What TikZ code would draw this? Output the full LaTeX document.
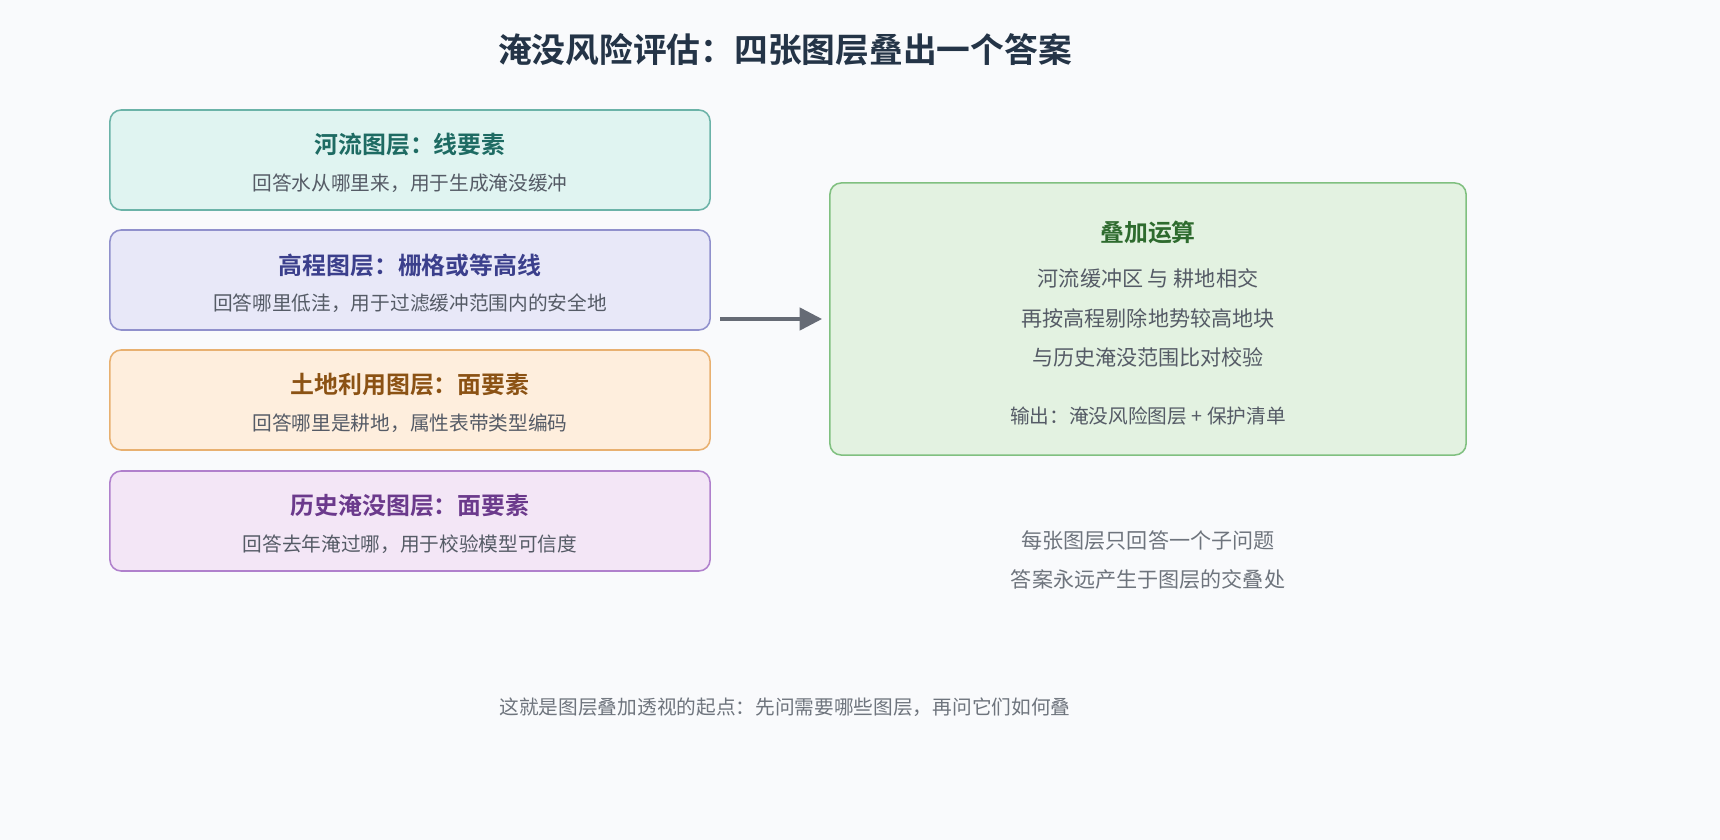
\documentclass[tikz,border=0pt]{standalone}
\usepackage{fontspec}
\setmainfont{Noto Sans CJK SC}[BoldFont={Noto Sans CJK SC Bold}]
\usetikzlibrary{arrows.meta}
\definecolor{bg}{HTML}{F9FAFC}
\definecolor{ink}{HTML}{555B66}
\definecolor{head}{HTML}{243447}
\definecolor{riverfill}{HTML}{E0F4F1}\definecolor{riverline}{HTML}{6BB3A8}\definecolor{rivertext}{HTML}{1E6B63}
\definecolor{demfill}{HTML}{E8E8F8}\definecolor{demline}{HTML}{9090CC}\definecolor{demtext}{HTML}{3B3F8C}
\definecolor{landfill}{HTML}{FEEEDD}\definecolor{landline}{HTML}{E8B070}\definecolor{landtext}{HTML}{8B5214}
\definecolor{floodfill}{HTML}{F3E6F6}\definecolor{floodline}{HTML}{B080CC}\definecolor{floodtext}{HTML}{6B3A8C}
\definecolor{ovfill}{HTML}{E3F2E1}\definecolor{ovline}{HTML}{80C080}\definecolor{ovtext}{HTML}{2E6B2E}
\tikzset{
    layer/.style={draw,rounded corners=8pt,line width=1.1pt,minimum width=15cm,minimum height=2.5cm},
    ttl/.style={font=\fontsize{17}{20}\selectfont\bfseries},
    sub/.style={text=ink,font=\fontsize{14}{17}\selectfont},
    note/.style={text=ink!85,font=\fontsize{14}{17}\selectfont},
    directed/.style={arrows={-Triangle[length=16pt,width=16pt]},line width=2.5pt,draw=ink!90},
    }
\begin{document}
\begin{tikzpicture}[x=0.025cm,y=-0.025cm]
        \useasboundingbox (0,0) rectangle (1720,840);
        \fill[bg] (0,0) rectangle (1720,840);
        \node[text=head,font=\fontsize{24}{28}\selectfont\bfseries] (title) at (785,50) {淹没风险评估：四张图层叠出一个答案};

        % input layers
        \node[layer,fill=riverfill,draw=riverline] (river) at (410,160) {};
        \node[layer,fill=demfill,draw=demline] (dem) at (410,280) {};
        \node[layer,fill=landfill,draw=landline] (land) at (410,400) {};
        \node[layer,fill=floodfill,draw=floodline] (flood) at (410,521) {};

        \node[ttl,text=rivertext] (rivert) at (410,145) {河流图层：线要素};
        \node[sub] (rivers) at (410,183) {回答水从哪里来，用于生成淹没缓冲};
        \node[ttl,text=demtext] (demt) at (410,265) {高程图层：栅格或等高线};
        \node[sub] (dems) at (410,303) {回答哪里低洼，用于过滤缓冲范围内的安全地};
        \node[ttl,text=landtext] (landt) at (410,385) {土地利用图层：面要素};
        \node[sub] (lands) at (410,423) {回答哪里是耕地，属性表带类型编码};
        \node[ttl,text=floodtext] (floodt) at (410,506) {历史淹没图层：面要素};
        \node[sub] (floods) at (410,544) {回答去年淹过哪，用于校验模型可信度};

        % overlay result
        \node[layer,minimum width=15.9cm,minimum height=6.8cm,fill=ovfill,draw=ovline] (overlay) at (1148,319) {};
        \node[ttl,text=ovtext] (ovt) at (1148,232) {叠加运算};
        \node[sub,align=center,font=\fontsize{15}{28}\selectfont] (ovs) at (1148,318) {河流缓冲区 与 耕地相交\\再按高程剔除地势较高地块\\与历史淹没范围比对校验};
        \node[sub] (ovo) at (1148,416) {输出：淹没风险图层 + 保护清单};

        \coordinate (a0) at (720,319);
        \coordinate (a1) at (822,319);
        \draw[directed] (a0) -- (a1);

        \node[note,align=center,font=\fontsize{15}{28}\selectfont] (hint) at (1148,560) {每张图层只回答一个子问题\\答案永远产生于图层的交叠处};
        \node[note] (foot) at (785,707) {这就是图层叠加透视的起点：先问需要哪些图层，再问它们如何叠};
\end{tikzpicture}
\end{document}
